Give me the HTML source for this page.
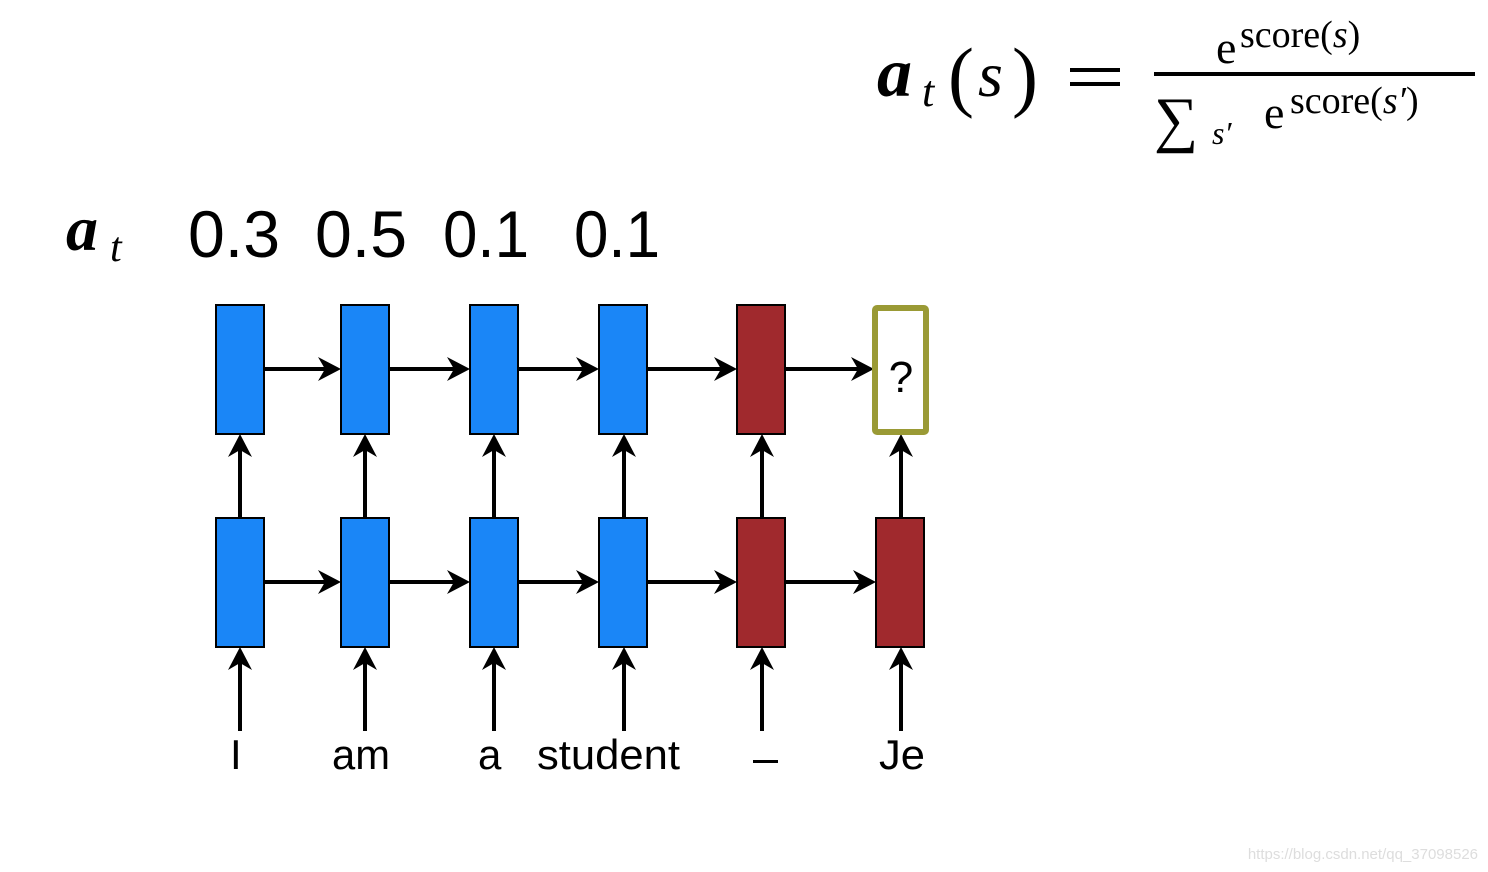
<!DOCTYPE html>
<html><head><meta charset="utf-8"><style>
html,body{margin:0;padding:0;background:#fff;}
svg{display:block;}
</style></head><body>
<svg width="1488" height="872" viewBox="0 0 1488 872" xmlns="http://www.w3.org/2000/svg">
<defs>
<marker id="ah" markerWidth="10" markerHeight="10" refX="9" refY="5" orient="auto" markerUnits="userSpaceOnUse" viewBox="0 0 10 10">
</marker>
</defs>
<!-- formula -->
<g font-family="Liberation Serif, serif" fill="#000">
<text x="877" y="96" font-size="70" font-weight="bold" font-style="italic">a</text>
<text x="922" y="106" font-size="44" font-style="italic">t</text>
<text x="948" y="102" font-size="78">(</text>
<text x="978" y="96" font-size="64" font-style="italic">s</text>
<text x="1012" y="102" font-size="78">)</text>
<rect x="1070" y="68" width="50" height="4"/>
<rect x="1070" y="82" width="50" height="4"/>
<text x="1216" y="63" font-size="46">e</text>
<text x="1240" y="47" font-size="38">score(<tspan font-style="italic">s</tspan>)</text>
<rect x="1154" y="72" width="321" height="4"/>
<text x="1154" y="140" font-size="62">∑</text>
<text x="1212" y="144" font-size="32" font-style="italic">s′</text>
<text x="1264" y="128" font-size="46">e</text>
<text x="1290" y="113" font-size="38">score(<tspan font-style="italic">s′</tspan>)</text>
</g>
<!-- a_t row -->
<g font-family="Liberation Serif, serif">
<text x="66" y="250" font-size="64" font-weight="bold" font-style="italic">a</text>
<text x="110" y="261" font-size="42" font-style="italic">t</text>
</g>
<g font-family="Liberation Sans, sans-serif" font-size="66">
<text x="188" y="257" textLength="92" lengthAdjust="spacingAndGlyphs">0.3</text>
<text x="315" y="257" textLength="92" lengthAdjust="spacingAndGlyphs">0.5</text>
<text x="443" y="257" textLength="86" lengthAdjust="spacingAndGlyphs">0.1</text>
<text x="574" y="257" textLength="86" lengthAdjust="spacingAndGlyphs">0.1</text>
</g>
<!-- lines -->
<g stroke="#000" stroke-width="4">
<line x1="264" y1="369" x2="330" y2="369"/>
<line x1="389" y1="369" x2="459" y2="369"/>
<line x1="518" y1="369" x2="588" y2="369"/>
<line x1="648" y1="369" x2="726" y2="369"/>
<line x1="786" y1="369" x2="863" y2="369"/>
<line x1="264" y1="582" x2="330" y2="582"/>
<line x1="389" y1="582" x2="459" y2="582"/>
<line x1="518" y1="582" x2="588" y2="582"/>
<line x1="648" y1="582" x2="726" y2="582"/>
<line x1="786" y1="582" x2="865" y2="582"/>
<line x1="240" y1="518" x2="240" y2="446"/>
<line x1="365" y1="518" x2="365" y2="446"/>
<line x1="494" y1="518" x2="494" y2="446"/>
<line x1="624" y1="518" x2="624" y2="446"/>
<line x1="762" y1="518" x2="762" y2="446"/>
<line x1="901" y1="518" x2="901" y2="446"/>
<line x1="240" y1="731" x2="240" y2="659"/>
<line x1="365" y1="731" x2="365" y2="659"/>
<line x1="494" y1="731" x2="494" y2="659"/>
<line x1="624" y1="731" x2="624" y2="659"/>
<line x1="762" y1="731" x2="762" y2="659"/>
<line x1="901" y1="731" x2="901" y2="659"/>
</g>
<g fill="#000">
<!-- right arrowheads top (tip x) -->
<path d="M341 369 L318 357 L325 369 L318 381Z"/>
<path d="M470 369 L447 357 L454 369 L447 381Z"/>
<path d="M599 369 L576 357 L583 369 L576 381Z"/>
<path d="M737 369 L714 357 L721 369 L714 381Z"/>
<path d="M874 369 L851 357 L858 369 L851 381Z"/>
<path d="M341 582 L318 570 L325 582 L318 594Z"/>
<path d="M470 582 L447 570 L454 582 L447 594Z"/>
<path d="M599 582 L576 570 L583 582 L576 594Z"/>
<path d="M737 582 L714 570 L721 582 L714 594Z"/>
<path d="M876 582 L853 570 L860 582 L853 594Z"/>
<!-- up arrowheads -->
<path d="M240 434 L228 457 L240 450 L252 457Z"/>
<path d="M365 434 L353 457 L365 450 L377 457Z"/>
<path d="M494 434 L482 457 L494 450 L506 457Z"/>
<path d="M624 434 L612 457 L624 450 L636 457Z"/>
<path d="M762 434 L750 457 L762 450 L774 457Z"/>
<path d="M901 434 L889 457 L901 450 L913 457Z"/>
<path d="M240 647 L228 670 L240 663 L252 670Z"/>
<path d="M365 647 L353 670 L365 663 L377 670Z"/>
<path d="M494 647 L482 670 L494 663 L506 670Z"/>
<path d="M624 647 L612 670 L624 663 L636 670Z"/>
<path d="M762 647 L750 670 L762 663 L774 670Z"/>
<path d="M901 647 L889 670 L901 663 L913 670Z"/>
</g>
<!-- boxes -->
<g stroke="#000" stroke-width="2">
<rect x="216" y="305" width="48" height="129" fill="#1a86f7"/>
<rect x="341" y="305" width="48" height="129" fill="#1a86f7"/>
<rect x="470" y="305" width="48" height="129" fill="#1a86f7"/>
<rect x="599" y="305" width="48" height="129" fill="#1a86f7"/>
<rect x="737" y="305" width="48" height="129" fill="#a0292d"/>
<rect x="216" y="518" width="48" height="129" fill="#1a86f7"/>
<rect x="341" y="518" width="48" height="129" fill="#1a86f7"/>
<rect x="470" y="518" width="48" height="129" fill="#1a86f7"/>
<rect x="599" y="518" width="48" height="129" fill="#1a86f7"/>
<rect x="737" y="518" width="48" height="129" fill="#a0292d"/>
<rect x="876" y="518" width="48" height="129" fill="#a0292d"/>
</g>
<rect x="875" y="308" width="51" height="124" fill="#fff" stroke="#9a9a35" stroke-width="6" rx="2"/>
<text x="901" y="392" font-family="Liberation Sans, sans-serif" font-size="44" text-anchor="middle">?</text>
<!-- words -->
<g font-family="Liberation Sans, sans-serif" font-size="42" fill="#000">
<text x="230" y="769">I</text>
<text x="332" y="769" textLength="58" lengthAdjust="spacingAndGlyphs">am</text>
<text x="478" y="769">a</text>
<text x="537" y="769" textLength="143" lengthAdjust="spacingAndGlyphs">student</text>
<rect x="753" y="760" width="25" height="3"/>
<text x="879" y="769" textLength="46" lengthAdjust="spacingAndGlyphs">Je</text>
</g>
<text x="1478" y="859" font-family="Liberation Sans, sans-serif" font-size="15" fill="#ddd" text-anchor="end">https://blog.csdn.net/qq_37098526</text>
</svg>
</body></html>
